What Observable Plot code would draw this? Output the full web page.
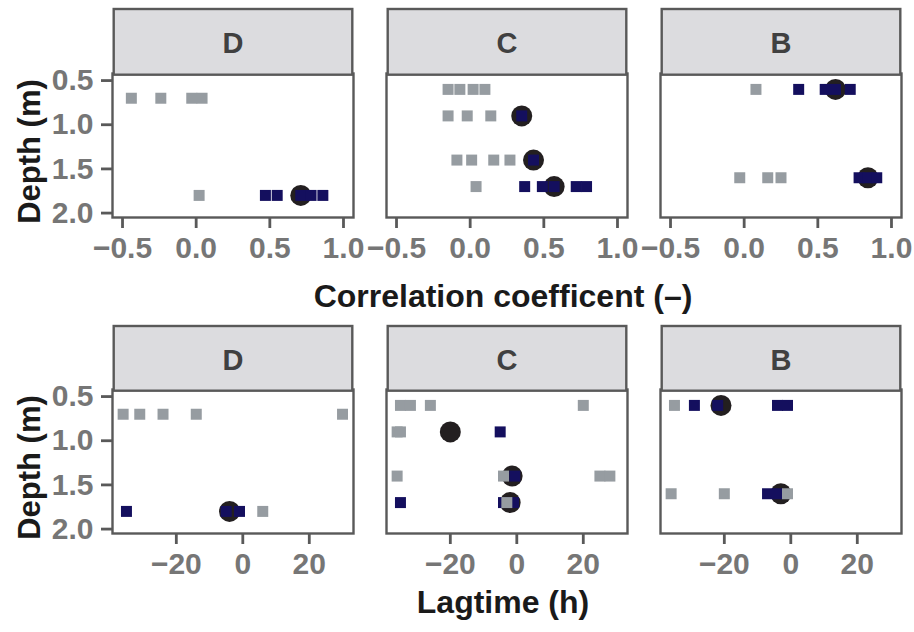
<!DOCTYPE html>
<html><head><meta charset="utf-8">
<script src="https://cdn.jsdelivr.net/npm/d3@7"></script>
<script src="https://cdn.jsdelivr.net/npm/@observablehq/plot@0.6"></script>
<style>
body{margin:0;background:#fff;}
#chart{width:914px;height:632px;overflow:hidden;}
#chart svg{display:block;}
</style></head><body><div id="chart"></div>
<script>
// ---- data ----
const sites = ["D", "C", "B"];
const depthTicks = [0.5, 1.0, 1.5, 2.0];
const corrTicks = [-0.5, 0, 0.5, 1.0];
const lagTicks = [-20, 0, 20];
const xTitleCorr = "Correlation coefficent (–)";
const xTitleLag = "Lagtime (h)";
const yTitle = "Depth (m)";

// [site, depth (m), correlation]
const corrGray = [
  ["D",0.7,-0.44],["D",0.7,-0.24],["D",0.7,-0.03],["D",0.7,0.04],["D",1.8,0.02],
  ["C",0.6,-0.15],["C",0.6,-0.07],["C",0.6,0.02],["C",0.6,0.10],
  ["C",0.9,-0.15],["C",0.9,-0.02],["C",0.9,0.14],
  ["C",1.4,-0.09],["C",1.4,0.01],["C",1.4,0.16],["C",1.4,0.27],
  ["C",1.7,0.04],
  ["B",0.6,0.08],["B",1.6,-0.03],["B",1.6,0.16],["B",1.6,0.25]
];
const corrNavy = [
  ["D",1.8,0.47],["D",1.8,0.55],["D",1.8,0.71],["D",1.8,0.78],["D",1.8,0.86],
  ["C",0.9,0.35],["C",1.4,0.43],
  ["C",1.7,0.37],["C",1.7,0.49],["C",1.7,0.57],["C",1.7,0.72],["C",1.7,0.79],
  ["B",0.6,0.37],["B",0.6,0.55],["B",0.6,0.62],["B",0.6,0.72],
  ["B",1.6,0.78],["B",1.6,0.84],["B",1.6,0.90]
];
const corrBest = [
  ["D",1.8,0.71],["C",0.9,0.35],["C",1.4,0.43],["C",1.7,0.57],["B",0.6,0.62],["B",1.6,0.84]
];

// [site, depth (m), lag time (h)]
const lagGray = [
  ["D",0.7,-36],["D",0.7,-31],["D",0.7,-24],["D",0.7,-14],["D",0.7,30],["D",1.8,6],
  ["C",0.6,-35],["C",0.6,-32],["C",0.6,-26],["C",0.6,20],
  ["C",0.9,-36],["C",0.9,-35],
  ["C",1.4,-36],["C",1.4,-4],["C",1.4,25],["C",1.4,28],
  ["C",1.7,-3],
  ["B",0.6,-35],["B",1.6,-36],["B",1.6,-20],["B",1.6,-1]
];
const lagNavy = [
  ["D",1.8,-35],["D",1.8,-5],["D",1.8,-1],
  ["C",0.9,-5],["C",1.4,-0.6],["C",1.7,-35],["C",1.7,-4],["C",1.7,-1],
  ["B",0.6,-29],["B",0.6,-22],["B",0.6,-4],["B",0.6,-1],
  ["B",1.6,-7],["B",1.6,-4]
];
const lagBest = [
  ["D",1.8,-4],["C",0.9,-20],["C",1.4,-1.4],["C",1.7,-2],["B",0.6,-21],["B",1.6,-3]
];

// ---- styling ----
const FONT = "'Liberation Sans', Arial, Helvetica, sans-serif";
const BORDER = "#595959";
const TICKTXT = "#767676";

const toObj = a => a.map(([site, depth, value]) => ({site, depth, value}));

function row({gray, navy, best, xDomain, xTicks, xFormat, xTitle, titleY, stripTop}) {
  const H = 316;
  const plot = Plot.plot({
    width: 914, height: H,
    marginTop: 73, marginBottom: 99, marginLeft: 111, marginRight: 12,
    style: {fontFamily: FONT, background: "white", overflow: "visible"},
    fx: {domain: sites, paddingInner: 0.1202, paddingOuter: 0, axis: null, label: null},
    x: {domain: xDomain, label: null},
    y: {domain: [0.42, 2.05], reverse: true, label: null},
    marks: [
      Plot.dot(toObj(best), {fx: "site", x: "value", y: "depth", r: 10.5, fill: "#231f20", stroke: null}),
      Plot.dot(toObj(navy), {fx: "site", x: "value", y: "depth", symbol: "square", r: 6.2, fill: "#140f5e", stroke: null}),
      Plot.dot(toObj(gray), {fx: "site", x: "value", y: "depth", symbol: "square", r: 6.2, fill: "#969ca1", stroke: null}),
      Plot.frame({stroke: BORDER, strokeWidth: 2.4}),
      Plot.axisX({ticks: xTicks, tickFormat: xFormat, tickSize: 11, tickPadding: 8,
        stroke: BORDER, strokeWidth: 2.8, fill: TICKTXT, fontSize: 30, fontWeight: "bold", label: null}),
      Plot.axisY({ticks: depthTicks, tickFormat: d3.format(".1f"), tickSize: 11, tickPadding: 8,
        stroke: BORDER, strokeWidth: 2.8, fill: TICKTXT, fontSize: 30, fontWeight: "bold", label: null})
    ]
  });
  document.getElementById("chart").appendChild(plot);
  const svg = d3.select(plot);
  const sr = plot.getBoundingClientRect();
  const rects = Array.from(plot.querySelectorAll('[aria-label="frame"] rect'));
  const panels = rects.map(r => {
    const b = r.getBoundingClientRect();
    return {x: b.left - sr.left, y: b.top - sr.top, w: b.width, h: b.height};
  }).sort((a, b) => a.x - b.x);
  const g = svg.append("g").attr("class", "strips");
  panels.forEach((p, i) => {
    g.append("rect").attr("x", p.x + 1.2).attr("y", stripTop)
      .attr("width", p.w - 2.4).attr("height", p.y + 1.2 - stripTop)
      .attr("fill", "#dcdcdf").attr("stroke", BORDER).attr("stroke-width", 2.4);
    g.append("text").attr("x", p.x + p.w / 2).attr("y", stripTop + 44)
      .attr("text-anchor", "middle").attr("font-family", FONT).attr("font-weight", "bold")
      .attr("font-size", 29).attr("fill", "#404040").text(sites[i]);
  });
  const left = panels[0].x, right = panels[panels.length - 1].x + panels[panels.length - 1].w;
  const top = panels[0].y, bottom = panels[0].y + panels[0].h;
  svg.append("text").attr("x", (left + right) / 2 - 4).attr("y", titleY)
    .attr("text-anchor", "middle").attr("font-family", FONT).attr("font-weight", "bold")
    .attr("font-size", 32).attr("fill", "#1a1a1a").text(xTitle);
  svg.append("text")
    .attr("transform", `translate(40,${(top + bottom) / 2 + 6}) rotate(-90)`)
    .attr("text-anchor", "middle").attr("font-family", FONT).attr("font-weight", "bold")
    .attr("font-size", 31).attr("fill", "#1a1a1a").text(yTitle);
}

row({gray: corrGray, navy: corrNavy, best: corrBest, xDomain: [-0.568, 1.068],
     xTicks: corrTicks, xFormat: d3.format(".1f"), xTitle: xTitleCorr, titleY: 307, stripTop: 9});
row({gray: lagGray, navy: lagNavy, best: lagBest, xDomain: [-39.2, 33.3],
     xTicks: lagTicks, xFormat: d3.format("d"), xTitle: xTitleLag, titleY: 297, stripTop: 10});
</script></body></html>
